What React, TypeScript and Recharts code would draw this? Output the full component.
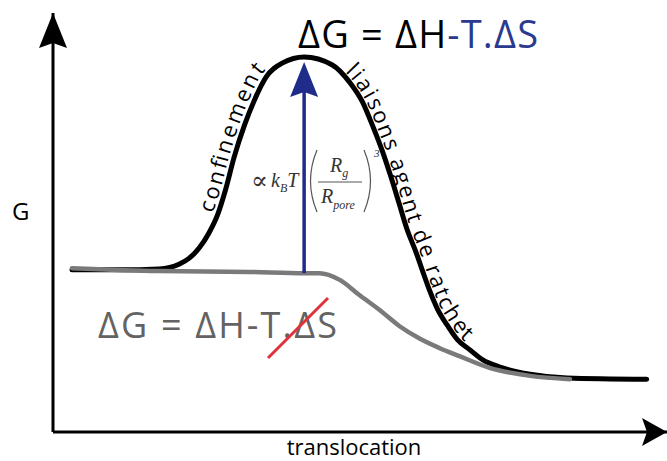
import { LineChart, Line, XAxis, YAxis, ReferenceLine, ReferenceDot } from 'recharts';

// curve with the confinement barrier (black)
const barrierCurve = [
  { x: 3.1, y: 38.7 }, { x: 10.8, y: 38.7 }, { x: 17.3, y: 38.9 }, { x: 20.6, y: 40.1 },
  { x: 22.2, y: 41.5 }, { x: 23.8, y: 43.9 }, { x: 25.4, y: 47.5 }, { x: 26.8, y: 51.8 },
  { x: 28.1, y: 57.8 }, { x: 29.5, y: 65.6 }, { x: 31.2, y: 73.3 }, { x: 32.8, y: 79.2 },
  { x: 34.7, y: 84.7 }, { x: 37.4, y: 88.1 }, { x: 40.9, y: 89.5 }, { x: 45.5, y: 87.6 },
  { x: 48.3, y: 83.5 }, { x: 50.4, y: 78.8 }, { x: 52.0, y: 73.3 }, { x: 53.7, y: 66.8 },
  { x: 55.1, y: 60.6 }, { x: 56.4, y: 54.4 }, { x: 57.7, y: 48.2 }, { x: 59.1, y: 43.0 },
  { x: 60.2, y: 38.4 }, { x: 61.3, y: 33.9 }, { x: 62.6, y: 29.4 }, { x: 64.3, y: 25.3 },
  { x: 65.9, y: 22.0 }, { x: 67.9, y: 19.6 }, { x: 70.0, y: 17.2 }, { x: 72.8, y: 15.5 },
  { x: 77.7, y: 13.8 }, { x: 83.7, y: 12.9 }, { x: 96.7, y: 12.6 },
];

// curve without the entropic term (gray)
const enthalpyCurve = [
  { x: 3.1, y: 39.1 }, { x: 17.3, y: 38.4 }, { x: 32.0, y: 38.2 }, { x: 40.9, y: 37.9 },
  { x: 43.4, y: 37.9 }, { x: 46.7, y: 36.3 }, { x: 49.9, y: 32.7 }, { x: 53.2, y: 29.1 },
  { x: 56.4, y: 25.3 }, { x: 59.7, y: 22.3 }, { x: 63.0, y: 20.0 }, { x: 66.2, y: 18.1 },
  { x: 71.1, y: 15.3 }, { x: 77.7, y: 13.4 }, { x: 84.2, y: 12.6 },
];

const peakX = 40.9;
const arrowBase = 37.9;
const arrowTop = 88.3;

const labels = {
  title: 'ΔG = ΔH',
  titleTail: '-T.ΔS',
  crossed: 'ΔG = ΔH-T.ΔS',
  yAxis: 'G',
  xAxis: 'translocation',
  left: 'confinement',
  right: 'liaisons agent de ratchet',
};

const sans = '"Open Sans", "Noto Sans", sans-serif';
const serif = '"Liberation Serif", "DejaVu Serif", serif';
const blue = '#1f2c8a';

// same frame as the chart's plot area (left 53, top 13, 614 x 419)
const toPx = (p: { x: number; y: number }) => ({ X: 53 + p.x * 6.14, Y: 13 + (100 - p.y) * 4.19 });

// smooth path along part of a curve, shifted sideways so text sits on it
function textTrack(points: { x: number; y: number }[], from: number, to: number, offset: number) {
  const pts = points.filter((p) => p.x >= from && p.x <= to).map(toPx);
  const off = pts.map((p, i) => {
    const a = pts[Math.max(i - 1, 0)];
    const b = pts[Math.min(i + 1, pts.length - 1)];
    const dx = b.X - a.X;
    const dy = b.Y - a.Y;
    const len = Math.hypot(dx, dy) || 1;
    return { X: p.X + (offset * dy) / len, Y: p.Y - (offset * dx) / len };
  });
  let d = `M ${off[0].X} ${off[0].Y}`;
  for (let i = 0; i < off.length - 1; i++) {
    const p0 = off[i - 1] || off[i];
    const p1 = off[i];
    const p2 = off[i + 1];
    const p3 = off[i + 2] || p2;
    d += ` C ${p1.X + (p2.X - p0.X) / 6} ${p1.Y + (p2.Y - p0.Y) / 6}, ${p2.X - (p3.X - p1.X) / 6} ${p2.Y - (p3.Y - p1.Y) / 6}, ${p2.X} ${p2.Y}`;
  }
  return d;
}

const UpArrow = (p: any) => (
  <polygon
    points={`${p.cx},${p.cy} ${p.cx - 14},${p.cy + 35} ${p.cx},${p.cy + 30} ${p.cx + 14},${p.cy + 35}`}
    fill={p.color}
  />
);

const RightArrow = (p: any) => (
  <polygon
    points={`${p.cx},${p.cy} ${p.cx - 25},${p.cy - 14} ${p.cx - 20},${p.cy} ${p.cx - 25},${p.cy + 14}`}
    fill="#000"
  />
);

export default function App() {
  return (
    <div style={{ position: 'absolute', left: 0, top: 0, width: 667, height: 461, background: '#fff' }}>
      <LineChart width={667} height={461} margin={{ top: 13, right: 0, bottom: 29, left: 53 }}>
        <XAxis type="number" dataKey="x" domain={[0, 100]} hide />
        <YAxis type="number" domain={[0, 100]} hide />
        <ReferenceLine x={0} stroke="#000" strokeWidth={3} ifOverflow="visible" />
        <ReferenceLine y={0} stroke="#000" strokeWidth={3} ifOverflow="visible" />
        <Line
          data={barrierCurve}
          dataKey="y"
          type="monotone"
          stroke="#000"
          strokeWidth={5}
          strokeLinecap="round"
          dot={false}
          isAnimationActive={false}
        />
        <Line
          data={enthalpyCurve}
          dataKey="y"
          type="monotone"
          stroke="#7a7a7a"
          strokeWidth={4.5}
          strokeLinecap="round"
          dot={false}
          isAnimationActive={false}
        />
        <ReferenceLine
          segment={[{ x: peakX, y: arrowBase }, { x: peakX, y: arrowTop - 6 }]}
          stroke={blue}
          strokeWidth={3.5}
          ifOverflow="visible"
        />
        <ReferenceDot x={peakX} y={arrowTop} r={1} ifOverflow="visible" shape={(p: any) => <UpArrow {...p} color={blue} />} />
        <ReferenceDot x={0} y={100} r={1} ifOverflow="visible" shape={(p: any) => <UpArrow {...p} color="#000" />} />
        <ReferenceDot x={100} y={0} r={1} ifOverflow="visible" shape={RightArrow} />
      </LineChart>

      <svg width={667} height={461} style={{ position: 'absolute', left: 0, top: 0, pointerEvents: 'none' }}>
        <defs>
          <path id="leftPath" d={textTrack(barrierCurve, 26.8, 40.9, 5)} />
          <path id="rightPath" d={textTrack(barrierCurve, 45.5, 72.8, 3.5)} />
        </defs>

        <text x={298} y={48} fontFamily={sans} fontSize={38} textLength={240} lengthAdjust="spacing" fill="#000">
          {labels.title}
          <tspan fill="#2b3a8f">{labels.titleTail}</tspan>
        </text>

        <text x={98} y={338} fontFamily={sans} fontSize={36} textLength={239} lengthAdjust="spacing" fill="#636363">
          {labels.crossed}
        </text>
        <line x1={268} y1={358} x2={328} y2={298} stroke="#e0323c" strokeWidth={3} />

        <text x={12} y={220} fontFamily={sans} fontSize={24} fill="#000">{labels.yAxis}</text>
        <text x={354} y={455} fontFamily={sans} fontSize={22} textAnchor="middle" fill="#000">{labels.xAxis}</text>

        <text fontFamily={sans} fontSize={22} fill="#000">
          <textPath href="#leftPath" startOffset={0} textLength={154} lengthAdjust="spacing">{labels.left}</textPath>
        </text>
        <text fontFamily={sans} fontSize={22} fill="#000">
          <textPath href="#rightPath" startOffset={14} textLength={298} lengthAdjust="spacing">{labels.right}</textPath>
        </text>

        <g fontFamily={serif} fill="#333">
          <text x={251} y={189} fontSize={25}>∝</text>
          <text x={271} y={187} fontSize={20} fontStyle="italic">
            k<tspan fontSize={12} dy={5}>B</tspan><tspan fontSize={20} dy={-5}>T</tspan>
          </text>
          <path d="M 317 150 Q 304 181 317 212" stroke="#555" strokeWidth={1.2} fill="none" />
          <text x={330} y={172} fontSize={20} fontStyle="italic">
            R<tspan fontSize={12} dy={5}>g</tspan>
          </text>
          <line x1={318} y1={182} x2={362} y2={182} stroke="#555" strokeWidth={1.2} />
          <text x={321} y={203} fontSize={20} fontStyle="italic">
            R<tspan fontSize={12} dy={6}>pore</tspan>
          </text>
          <path d="M 364 150 Q 377 181 364 212" stroke="#555" strokeWidth={1.2} fill="none" />
          <text x={374} y={157} fontSize={11} fontStyle="italic">3</text>
        </g>
      </svg>
    </div>
  );
}
